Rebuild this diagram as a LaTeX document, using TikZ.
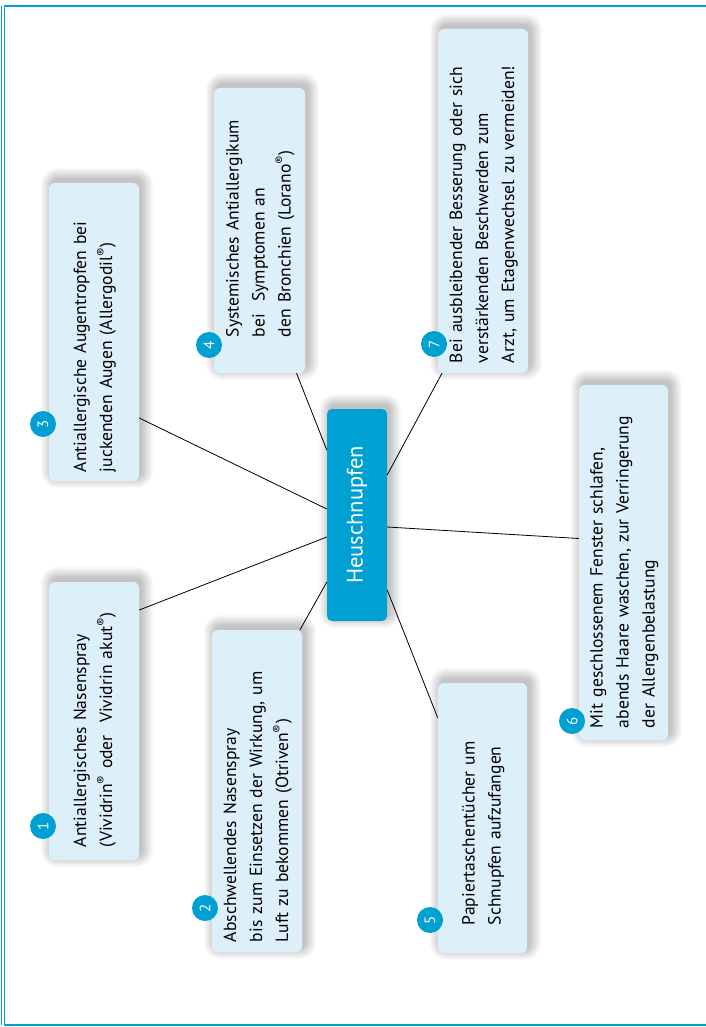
\documentclass[tikz,border=0pt]{standalone}
\usepackage{fontspec}
\setmainfont{PT Sans}[WordSpace=1.3]
\usetikzlibrary{backgrounds,calc}
\definecolor{hblue}{RGB}{0,160,210}
\definecolor{hbox}{RGB}{221,239,248}
\newcommand\btext[2]{\makebox[#1][l]{\begin{tabular}{@{}l@{}}#2\end{tabular}}}
\newcommand\reg{\textsuperscript{®}}
\begin{document}
\begin{tikzpicture}[x=1pt,y=1pt,
  infobox/.style={rotate=90, fill=hbox, rounded corners=6pt, inner sep=0pt,
    font=\fontsize{17.6}{26}\selectfont},
  hub/.style={rotate=90, fill=hblue, rounded corners=5pt, inner sep=0pt,
    text=white, font=\fontsize{22.5}{28}\selectfont},
  numc/.style={circle, fill=hblue, text=white, rotate=90, inner sep=0pt,
    minimum size=26pt, font=\fontsize{15}{16}\selectfont},
  conn/.style={draw=black, line width=0.8pt}]
\useasboundingbox (0,0) rectangle (705,-1027);
\draw[hblue, line width=1.6pt] (4.5,-6) rectangle (712,-1025);
\draw[hblue, line width=0.6pt] (1.2,-6) -- (1.2,-1025);

% hub
\node[hub, minimum width=212pt, minimum height=60pt] (c) at (357,-515) {Heuschnupfen};

% boxes
\node[infobox, minimum width=278pt, minimum height=90pt] (b1) at (94,-721)
  {\btext{252pt}{Antiallergisches Nasenspray\\(Vividrin\reg{} oder\ \ Vividrin akut\reg)}};
\node[infobox, minimum width=322pt, minimum height=90pt] (b2) at (257,-791)
  {\btext{302pt}{Abschwellendes Nasenspray\\bis zum Einsetzen der Wirkung, um\\Luft zu bekommen (Otriven\reg)}};
\node[infobox, minimum width=298pt, minimum height=90pt] (b3) at (94,-332)
  {\btext{280pt}{Antiallergische Augentropfen bei\\juckenden Augen (Allergodil\reg)}};
\node[infobox, minimum width=285pt, minimum height=91pt] (b4) at (259.5,-230.5)
  {\btext{213pt}{Systemisches Antiallergikum\\bei\ \ Symptomen an\\den Bronchien (Lorano\reg)}};
\node[infobox, minimum width=270pt, minimum height=89pt] (b5) at (482.5,-818)
  {\btext{214pt}{Papiertaschentücher um\\Schnupfen aufzufangen}};
\node[infobox, minimum width=355pt, minimum height=89pt] (b6) at (623.5,-562.5)
  {\btext{331pt}{Mit geschlossenem Fenster schlafen,\\abends Haare waschen, zur Verringerung\\der Allergenbelastung}};
\node[infobox, minimum width=344pt, minimum height=90pt] (b7) at (483,-201)
  {\btext{324pt}{Bei ausbleibender Besserung oder sich\\verstärkenden Beschwerden zum\\Arzt, um Etagenwechsel zu vermeiden!}};

% background and soft shadows
\begin{scope}[on background layer]
\fill[white] (0,0) rectangle (705,-1027);
\foreach \n in {b1,b2,b3,b4,b5,b6,b7,c}{
  \foreach \e in {0,...,11}{
    \fill[black, opacity=0.02, rounded corners={6pt+\e pt}]
      ([shift={(3-\e,4+\e)}]\n.north east) rectangle ([shift={(3+\e,4-\e)}]\n.south west);
  }
}
\end{scope}

% number circles
\node[numc] (n1) at (43,-826) {1};
\node[numc] (n2) at (205,-908) {2};
\node[numc] (n3) at (43,-424) {3};
\node[numc] (n4) at (209,-345) {4};
\node[numc] (n5) at (430,-920) {5};
\node[numc] (n6) at (572,-721) {6};
\node[numc] (n7) at (434,-344) {7};

% connectors
\draw[conn] ([yshift=-86pt]b3.south) -- ([yshift=6pt]c.north);
\draw[conn] ([yshift=111pt]b1.south) -- ([yshift=-22pt]c.north);
\draw[conn] ([xshift=37pt]b4.west) -- ([yshift=65pt]c.north);
\draw[conn] ([xshift=-41pt]b7.west) -- ([yshift=40pt]c.south);
\draw[conn] ([yshift=24pt]b6.north) -- ([yshift=-12pt]c.south);
\draw[conn] ([yshift=100pt]b5.north) -- ([yshift=-75pt]c.south);
\draw[conn] ([xshift=43pt]b2.east) -- ([yshift=-67pt]c.north);
\end{tikzpicture}
\end{document}
